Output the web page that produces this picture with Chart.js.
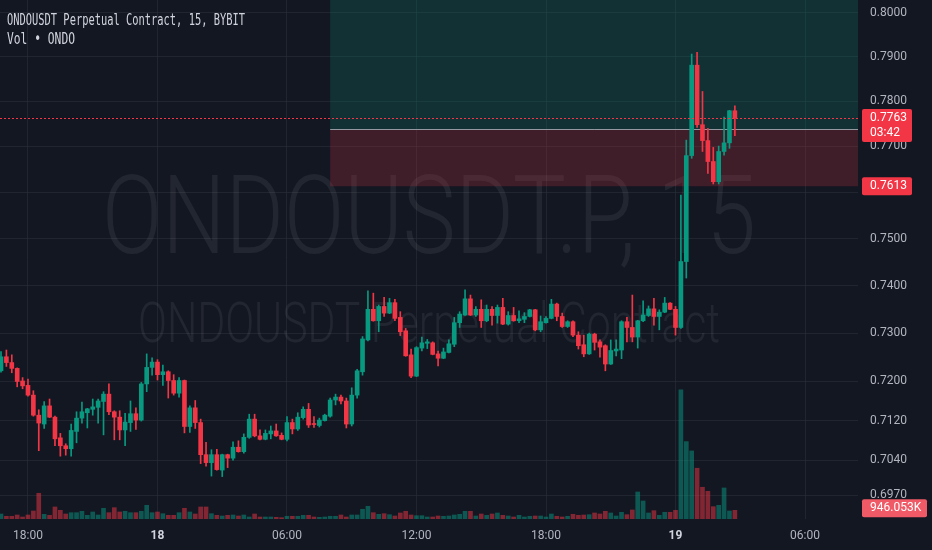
<!DOCTYPE html>
<html>
<head>
<meta charset="utf-8">
<script src="https://cdn.jsdelivr.net/npm/chart.js@4.4.1/dist/chart.umd.min.js"></script>
<style>
  html, body { margin: 0; padding: 0; background: #131722; }
  canvas { display: block; }
</style>
</head>
<body>
<canvas id="myChart" width="932" height="550"></canvas>
<script>
'use strict';

// 15m candles, 17th 16:45 -> 19th 02:45
const opens = [
  0.7222, 0.7251, 0.7239, 0.7227, 0.7201, 0.7192, 0.7172, 0.7131, 0.7113, 0.7150,
  0.7127, 0.7085, 0.7069, 0.7063, 0.7098, 0.7125, 0.7136, 0.7143, 0.7147, 0.7159,
  0.7174, 0.7138, 0.7127, 0.7101, 0.7116, 0.7134, 0.7121, 0.7195, 0.7229, 0.7240,
  0.7214, 0.7220, 0.7202, 0.7176, 0.7202, 0.7108, 0.7146, 0.7116, 0.7051, 0.7035,
  0.7051, 0.7020, 0.7051, 0.7044, 0.7066, 0.7057, 0.7086, 0.7123, 0.7089, 0.7082,
  0.7093, 0.7099, 0.7090, 0.7082, 0.7116, 0.7103, 0.7126, 0.7143, 0.7114, 0.7110,
  0.7120, 0.7129, 0.7162, 0.7168, 0.7160, 0.7113, 0.7172, 0.7220, 0.7286, 0.7350,
  0.7326, 0.7356, 0.7342, 0.7364, 0.7333, 0.7305, 0.7255, 0.7211, 0.7269, 0.7279,
  0.7280, 0.7257, 0.7248, 0.7260, 0.7277, 0.7322, 0.7338, 0.7372, 0.7338, 0.7350,
  0.7326, 0.7350, 0.7337, 0.7354, 0.7319, 0.7337, 0.7326, 0.7329, 0.7335, 0.7349,
  0.7307, 0.7322, 0.7331, 0.7361, 0.7335, 0.7314, 0.7324, 0.7296, 0.7276, 0.7257,
  0.7298, 0.7282, 0.7274, 0.7236, 0.7263, 0.7265, 0.7324, 0.7312, 0.7292, 0.7326,
  0.7337, 0.7351, 0.7335, 0.7344, 0.7363, 0.7350, 0.7312, 0.7451, 0.7680, 0.7881,
  0.7748, 0.7713, 0.7667, 0.7623, 0.7689, 0.7708, 0.7779
];
const highs = [
  0.7262, 0.7265, 0.7255, 0.7228, 0.7208, 0.7205, 0.7181, 0.7142, 0.7159, 0.7164,
  0.7129, 0.7094, 0.7073, 0.7113, 0.7138, 0.7158, 0.7145, 0.7164, 0.7164, 0.7179,
  0.7195, 0.7140, 0.7140, 0.7135, 0.7160, 0.7146, 0.7198, 0.7257, 0.7249, 0.7245,
  0.7234, 0.7222, 0.7214, 0.7208, 0.7203, 0.7150, 0.7161, 0.7123, 0.7076, 0.7061,
  0.7062, 0.7052, 0.7052, 0.7077, 0.7079, 0.7093, 0.7133, 0.7133, 0.7101, 0.7101,
  0.7109, 0.7113, 0.7095, 0.7128, 0.7123, 0.7136, 0.7148, 0.7155, 0.7128, 0.7125,
  0.7133, 0.7166, 0.7174, 0.7172, 0.7166, 0.7187, 0.7225, 0.7293, 0.7389, 0.7384,
  0.7359, 0.7375, 0.7373, 0.7371, 0.7345, 0.7310, 0.7267, 0.7272, 0.7292, 0.7287,
  0.7282, 0.7263, 0.7269, 0.7286, 0.7333, 0.7345, 0.7391, 0.7380, 0.7356, 0.7370,
  0.7359, 0.7356, 0.7359, 0.7373, 0.7345, 0.7354, 0.7347, 0.7343, 0.7350, 0.7350,
  0.7336, 0.7335, 0.7371, 0.7363, 0.7342, 0.7326, 0.7326, 0.7303, 0.7296, 0.7300,
  0.7300, 0.7286, 0.7276, 0.7286, 0.7286, 0.7326, 0.7333, 0.7380, 0.7327, 0.7368,
  0.7357, 0.7373, 0.7349, 0.7375, 0.7364, 0.7356, 0.7594, 0.7714, 0.7906, 0.7910,
  0.7822, 0.7740, 0.7698, 0.7701, 0.7765, 0.7780, 0.7790
];
const lows = [
  0.7219, 0.7231, 0.7218, 0.7189, 0.7185, 0.7170, 0.7129, 0.7059, 0.7104, 0.7126,
  0.7069, 0.7048, 0.7050, 0.7048, 0.7075, 0.7115, 0.7105, 0.7131, 0.7115, 0.7091,
  0.7132, 0.7081, 0.7081, 0.7069, 0.7098, 0.7102, 0.7119, 0.7179, 0.7213, 0.7203,
  0.7192, 0.7166, 0.7172, 0.7168, 0.7095, 0.7096, 0.7104, 0.7033, 0.7028, 0.7008,
  0.7020, 0.7007, 0.7025, 0.7040, 0.7056, 0.7054, 0.7084, 0.7087, 0.7081, 0.7081,
  0.7083, 0.7088, 0.7081, 0.7079, 0.7093, 0.7100, 0.7123, 0.7106, 0.7106, 0.7107,
  0.7119, 0.7127, 0.7152, 0.7154, 0.7105, 0.7109, 0.7166, 0.7213, 0.7284, 0.7325,
  0.7303, 0.7335, 0.7341, 0.7326, 0.7295, 0.7252, 0.7208, 0.7210, 0.7263, 0.7268,
  0.7255, 0.7232, 0.7247, 0.7259, 0.7272, 0.7312, 0.7337, 0.7337, 0.7335, 0.7312,
  0.7324, 0.7317, 0.7321, 0.7318, 0.7317, 0.7325, 0.7322, 0.7322, 0.7334, 0.7305,
  0.7303, 0.7321, 0.7330, 0.7326, 0.7312, 0.7312, 0.7293, 0.7267, 0.7251, 0.7256,
  0.7265, 0.7250, 0.7222, 0.7235, 0.7253, 0.7247, 0.7282, 0.7282, 0.7269, 0.7324,
  0.7335, 0.7317, 0.7307, 0.7343, 0.7349, 0.7296, 0.7310, 0.7416, 0.7674, 0.7742,
  0.7689, 0.7641, 0.7618, 0.7618, 0.7681, 0.7696, 0.7724
];
const closes = [
  0.7251, 0.7239, 0.7227, 0.7200, 0.7191, 0.7172, 0.7131, 0.7115, 0.7150, 0.7127,
  0.7083, 0.7069, 0.7063, 0.7100, 0.7125, 0.7138, 0.7144, 0.7148, 0.7160, 0.7174,
  0.7138, 0.7127, 0.7101, 0.7117, 0.7134, 0.7121, 0.7195, 0.7229, 0.7240, 0.7214,
  0.7220, 0.7202, 0.7176, 0.7202, 0.7108, 0.7146, 0.7116, 0.7051, 0.7035, 0.7051,
  0.7021, 0.7051, 0.7044, 0.7066, 0.7057, 0.7086, 0.7123, 0.7089, 0.7082, 0.7094,
  0.7099, 0.7089, 0.7082, 0.7116, 0.7103, 0.7127, 0.7143, 0.7111, 0.7112, 0.7121,
  0.7131, 0.7162, 0.7168, 0.7160, 0.7113, 0.7172, 0.7222, 0.7288, 0.7350, 0.7326,
  0.7356, 0.7342, 0.7364, 0.7331, 0.7303, 0.7253, 0.7211, 0.7270, 0.7280, 0.7282,
  0.7256, 0.7248, 0.7261, 0.7278, 0.7322, 0.7340, 0.7372, 0.7338, 0.7350, 0.7326,
  0.7350, 0.7337, 0.7354, 0.7319, 0.7337, 0.7326, 0.7330, 0.7335, 0.7349, 0.7307,
  0.7324, 0.7331, 0.7361, 0.7335, 0.7314, 0.7324, 0.7296, 0.7274, 0.7257, 0.7298,
  0.7281, 0.7271, 0.7236, 0.7264, 0.7267, 0.7324, 0.7312, 0.7292, 0.7326, 0.7338,
  0.7351, 0.7335, 0.7344, 0.7363, 0.7350, 0.7312, 0.7451, 0.7680, 0.7881, 0.7748,
  0.7713, 0.7667, 0.7623, 0.7689, 0.7708, 0.7779, 0.7763
];
// volume in thousands
const volumes = [
  545, 295, 295, 436, 218, 436, 872, 2800, 512, 403,
  1308, 948, 545, 687, 687, 839, 403, 763, 436, 1166,
  687, 1232, 763, 839, 687, 687, 839, 1493, 687, 763,
  578, 403, 403, 687, 1166, 763, 545, 1308, 1308, 578,
  403, 327, 403, 436, 327, 436, 218, 545, 218, 218,
  218, 185, 142, 295, 295, 295, 403, 403, 218, 185,
  218, 295, 295, 436, 218, 436, 436, 1057, 1384, 687,
  512, 578, 469, 327, 654, 839, 436, 360, 360, 218,
  218, 327, 295, 327, 436, 512, 839, 839, 327, 545,
  403, 545, 654, 403, 327, 218, 403, 218, 295, 327,
  327, 218, 545, 295, 218, 295, 512, 403, 436, 469,
  654, 545, 839, 654, 327, 730, 469, 981, 2943, 1962,
  654, 905, 403, 730, 730, 948, 14061, 8426, 7412, 5526,
  3455, 3019, 1341, 1493, 3379, 872, 946.053
];

const timeTickIdx = [5, 29, 53, 77, 101, 125, 149];
const timeTickText = ['18:00', '18', '06:00', '12:00', '18:00', '19', '06:00'];
const dayTickIdx = [29, 125];
const priceTicks = [0.8, 0.79, 0.78, 0.77, 0.76, 0.75, 0.74, 0.73, 0.72, 0.712, 0.704, 0.697];

const lastPrice = 0.7763;
const countdown = '03:42';
const entryPrice = 0.7738;
const stopPrice = 0.7613;
const targetPrice = 0.81;
const positionStart = 61;

const upColor = '#089981';
const downColor = '#f23645';
const bgColor = '#131722';
const gridColor = 'rgba(42, 46, 57, 0.6)';
const textColor = '#b2b5be';

Chart.defaults.font.family = 'Roboto';

const wicks = [];
const bodies = [];
const vols = [];
const candleColors = [];
const volColors = [];
for (let i = 0; i < opens.length; i++) {
  const up = closes[i] >= opens[i];
  wicks.push({ x: i, y: [lows[i], highs[i]] });
  bodies.push({ x: i, y: [opens[i], closes[i]] });
  vols.push({ x: i, y: volumes[i] });
  candleColors.push(up ? upColor : downColor);
  volColors.push(up ? 'rgba(8, 153, 129, 0.5)' : 'rgba(242, 54, 69, 0.5)');
}

function squeezeText(ctx, text, font, x, y, width, align) {
  ctx.font = font;
  const w = ctx.measureText(text).width;
  ctx.save();
  ctx.translate(x, y);
  ctx.scale(width / w, 1);
  ctx.textAlign = align;
  ctx.textBaseline = 'alphabetic';
  ctx.fillText(text, 0, 0);
  ctx.restore();
}

function axisLabel(ctx, top, w, h, color, lines) {
  ctx.fillStyle = color;
  ctx.beginPath();
  ctx.roundRect(862, top, w, h, 2);
  ctx.fill();
  ctx.fillStyle = '#ffffff';
  ctx.font = '12px Roboto';
  ctx.textAlign = 'left';
  ctx.textBaseline = 'middle';
  for (let i = 0; i < lines.length; i++) {
    ctx.fillText(lines[i], 870, top + 9 + i * 15);
  }
}

const tvPlugin = {
  id: 'tv',
  beforeDraw(chart) {
    const ctx = chart.ctx;
    ctx.save();
    ctx.fillStyle = bgColor;
    ctx.fillRect(0, 0, chart.width, chart.height);
    ctx.restore();
  },
  beforeDatasetsDraw(chart) {
    const { ctx, chartArea, scales } = chart;
    const cx = (chartArea.left + chartArea.right) / 2;
    ctx.save();
    ctx.fillStyle = 'rgba(255, 255, 255, 0.065)';
    squeezeText(ctx, 'ONDOUSDT.P, 15', '300 110px Roboto', cx, 253, 654, 'center');
    squeezeText(ctx, 'ONDOUSDT Perpetual Contract', '300 55px Roboto', cx, 342, 582, 'center');

    const x0 = scales.x.getPixelForValue(positionStart);
    const yT = Math.max(scales.y.getPixelForValue(targetPrice), chartArea.top);
    const yE = scales.y.getPixelForValue(entryPrice);
    const yS = scales.y.getPixelForValue(stopPrice);
    ctx.fillStyle = 'rgba(8, 153, 129, 0.2)';
    ctx.fillRect(x0, yT, chartArea.right - x0, yE - yT);
    ctx.fillStyle = 'rgba(242, 54, 69, 0.2)';
    ctx.fillRect(x0, yE, chartArea.right - x0, yS - yE);
    ctx.strokeStyle = '#9598a1';
    ctx.lineWidth = 1;
    ctx.beginPath();
    ctx.moveTo(x0, Math.round(yE) + 0.5);
    ctx.lineTo(chartArea.right, Math.round(yE) + 0.5);
    ctx.stroke();
    ctx.restore();
  },
  afterDatasetsDraw(chart) {
    const { ctx, chartArea, scales } = chart;
    const y = Math.round(scales.y.getPixelForValue(lastPrice)) + 0.5;
    ctx.save();
    ctx.strokeStyle = downColor;
    ctx.lineWidth = 1;
    ctx.setLineDash([2, 2]);
    ctx.beginPath();
    ctx.moveTo(chartArea.left, y);
    ctx.lineTo(chartArea.right, y);
    ctx.stroke();
    ctx.restore();
  },
  afterDraw(chart) {
    const { ctx, scales } = chart;
    ctx.save();
    ctx.fillStyle = '#d1d4dc';
    squeezeText(ctx, 'ONDOUSDT Perpetual Contract, 15, BYBIT', '15px "DejaVu Sans Mono"', 7, 25, 238, 'left');
    squeezeText(ctx, 'Vol \u2022 ONDO', '15px "DejaVu Sans Mono"', 7, 44, 68, 'left');

    const yp = scales.y.getPixelForValue(lastPrice);
    axisLabel(ctx, yp - 9, 50, 33, downColor, [lastPrice.toFixed(4), countdown]);
    const ys = scales.y.getPixelForValue(stopPrice);
    axisLabel(ctx, ys - 9, 50, 18, downColor, [stopPrice.toFixed(4)]);
    const lastVol = volumes[volumes.length - 1];
    const yv = scales.v.getPixelForValue(lastVol);
    axisLabel(ctx, yv - 11, 65, 18, '#ef5a66', [lastVol.toFixed(3) + 'K']);
    ctx.restore();
  }
};

const ctx = document.getElementById('myChart').getContext('2d');
new Chart(ctx, {
  type: 'bar',
  data: {
    datasets: [
      {
        data: bodies,
        backgroundColor: candleColors,
        barThickness: 4,
        minBarLength: 1,
        grouped: false,
        order: 1
      },
      {
        data: wicks,
        backgroundColor: candleColors,
        barThickness: 1,
        grouped: false,
        order: 2
      },
      {
        data: vols,
        yAxisID: 'v',
        backgroundColor: volColors,
        barThickness: 4,
        grouped: false,
        order: 3
      }
    ]
  },
  options: {
    responsive: false,
    animation: false,
    devicePixelRatio: 1,
    layout: { padding: 0 },
    plugins: {
      legend: { display: false },
      tooltip: { enabled: false }
    },
    scales: {
      x: {
        type: 'linear',
        min: -0.185,
        max: 158.82,
        offset: false,
        border: { display: false },
        grid: { color: gridColor, drawTicks: false, offset: false },
        afterBuildTicks(scale) {
          scale.ticks = timeTickIdx.map(v => ({ value: v }));
        },
        afterFit(scale) {
          scale.height = 31;
          scale.paddingLeft = 0;
          scale.paddingRight = 0;
        },
        ticks: {
          autoSkip: false,
          maxRotation: 0,
          padding: 10,
          color: c => (c.tick && dayTickIdx.includes(c.tick.value)) ? '#d1d4dc' : textColor,
          font: c => ({
            family: 'Roboto',
            size: 12,
            weight: (c.tick && dayTickIdx.includes(c.tick.value)) ? 'bold' : 'normal'
          }),
          callback: v => timeTickText[timeTickIdx.indexOf(v)]
        }
      },
      y: {
        type: 'logarithmic',
        position: 'right',
        bounds: 'data',
        min: 0.69226,
        max: 0.80291,
        border: { display: false },
        grid: { color: gridColor, drawTicks: false },
        afterBuildTicks(scale) {
          scale.ticks = priceTicks.map(v => ({ value: v }));
        },
        afterFit(scale) {
          scale.width = 74;
          scale.paddingTop = 0;
          scale.paddingBottom = 0;
        },
        ticks: {
          padding: 12,
          color: textColor,
          font: { family: 'Roboto', size: 12 },
          callback: v => v.toFixed(4)
        }
      },
      v: {
        type: 'linear',
        axis: 'y',
        display: false,
        min: 0,
        max: 56500
      }
    }
  },
  plugins: [tvPlugin]
});
</script>
</body>
</html>
